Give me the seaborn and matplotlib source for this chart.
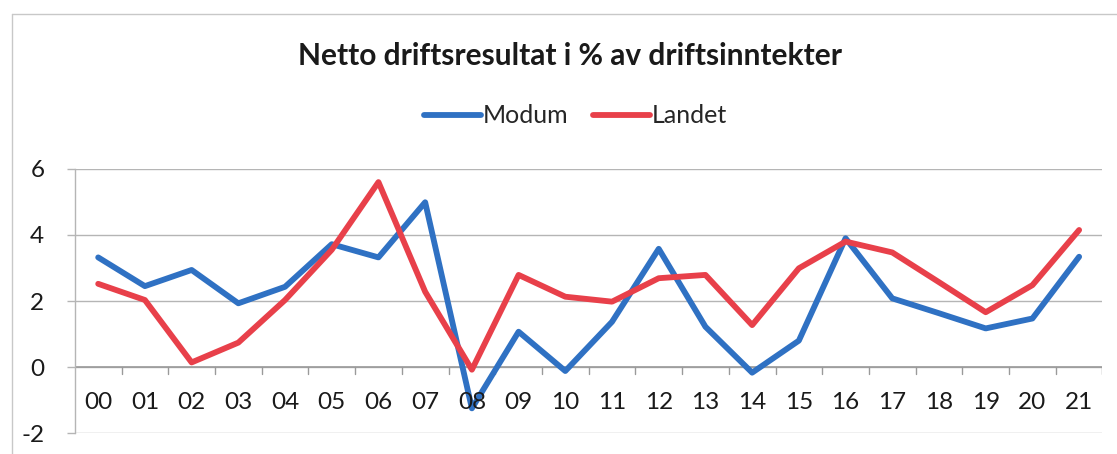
import numpy as np
import pandas as pd
import matplotlib
matplotlib.use('Agg')
import matplotlib.pyplot as plt
import seaborn as sns
from matplotlib.lines import Line2D

years = ['00', '01', '02', '03', '04', '05', '06', '07', '08', '09', '10',
         '11', '12', '13', '14', '15', '16', '17', '18', '19', '20', '21']
modum = [3.32, 2.45, 2.94, 1.93, 2.43, 3.72, 3.32, 4.99, -1.25, 1.07, -0.12,
         1.37, 3.58, 1.22, -0.17, 0.80, 3.90, 2.08, 1.63, 1.17, 1.47, 3.34]
landet = [2.52, 2.03, 0.14, 0.74, 2.03, 3.55, 5.60, 2.28, -0.08, 2.79, 2.13,
          1.98, 2.69, 2.79, 1.27, 2.99, 3.80, 3.47, 2.57, 1.66, 2.48, 4.15]

df = pd.DataFrame({'x': np.arange(len(years)), 'Modum': modum, 'Landet': landet})
long = df.melt(id_vars='x', var_name='serie', value_name='verdi')

sns.set_style('white')
plt.rcParams['font.family'] = ['Lato', 'DejaVu Sans']

fig = plt.figure(figsize=(11.17, 4.54), dpi=100)
ax = fig.add_axes([0.067, 0.046, 0.92, 0.582])

palette = {'Modum': '#2f71c3', 'Landet': '#e8404a'}
sns.lineplot(data=long, x='x', y='verdi', hue='serie', palette=palette,
             linewidth=4.2, ax=ax, legend=False, solid_capstyle='round')

ax.set_xlim(-0.5, 21.5)
ax.set_ylim(-2, 6)
ax.set_yticks([-2, 0, 2, 4, 6])
ax.set_yticklabels(['-2', '0', '2', '4', '6'], fontsize=17.5)
ax.yaxis.grid(True, color='#b5b5b5', linewidth=1)
ax.set_axisbelow(True)
ax.set_xlabel('')
ax.set_ylabel('')
for s in ['top', 'right', 'bottom']:
    ax.spines[s].set_visible(False)
ax.spines['left'].set_color('#b5b5b5')
ax.spines['left'].set_linewidth(1)
ax.tick_params(axis='y', length=6, color='#b5b5b5', width=1, pad=16,
               left=True, labelcolor='#1a1a1a')

# x axis at zero, labels below
ax.set_xticks([])
ax.axhline(0, color='#9a9a9a', linewidth=1.2, zorder=1)
for b in np.arange(-0.5, 22, 1.0)[1:]:
    ax.plot([b, b], [0, -0.2], color='#9a9a9a', linewidth=1, zorder=1)
for i, lab in enumerate(years):
    ax.text(i, -1.06, lab, ha='center', va='center', fontsize=17.5, color='#1a1a1a')

fig.text(0.51, 0.876, 'Netto driftsresultat i % av driftsinntekter',
         ha='center', va='center', fontsize=21.5, fontweight='bold', color='#1a1a1a')

handles = [Line2D([], [], color=palette['Modum'], linewidth=4.2, solid_capstyle='round'),
           Line2D([], [], color=palette['Landet'], linewidth=4.2, solid_capstyle='round')]
fig.legend(handles, ['Modum', 'Landet'], loc='center', bbox_to_anchor=(0.515, 0.745),
           ncol=2, frameon=False, fontsize=18, handlelength=2.3, handletextpad=0.05,
           columnspacing=1.0)

# chart frame
fig.add_artist(Line2D([0.011, 1.0], [0.97, 0.97], color='#c8c8c8', linewidth=1,
                      transform=fig.transFigure))
fig.add_artist(Line2D([0.011, 0.011], [0.0, 0.97], color='#c8c8c8', linewidth=1,
                      transform=fig.transFigure))

fig.savefig('out.png', dpi=100)
